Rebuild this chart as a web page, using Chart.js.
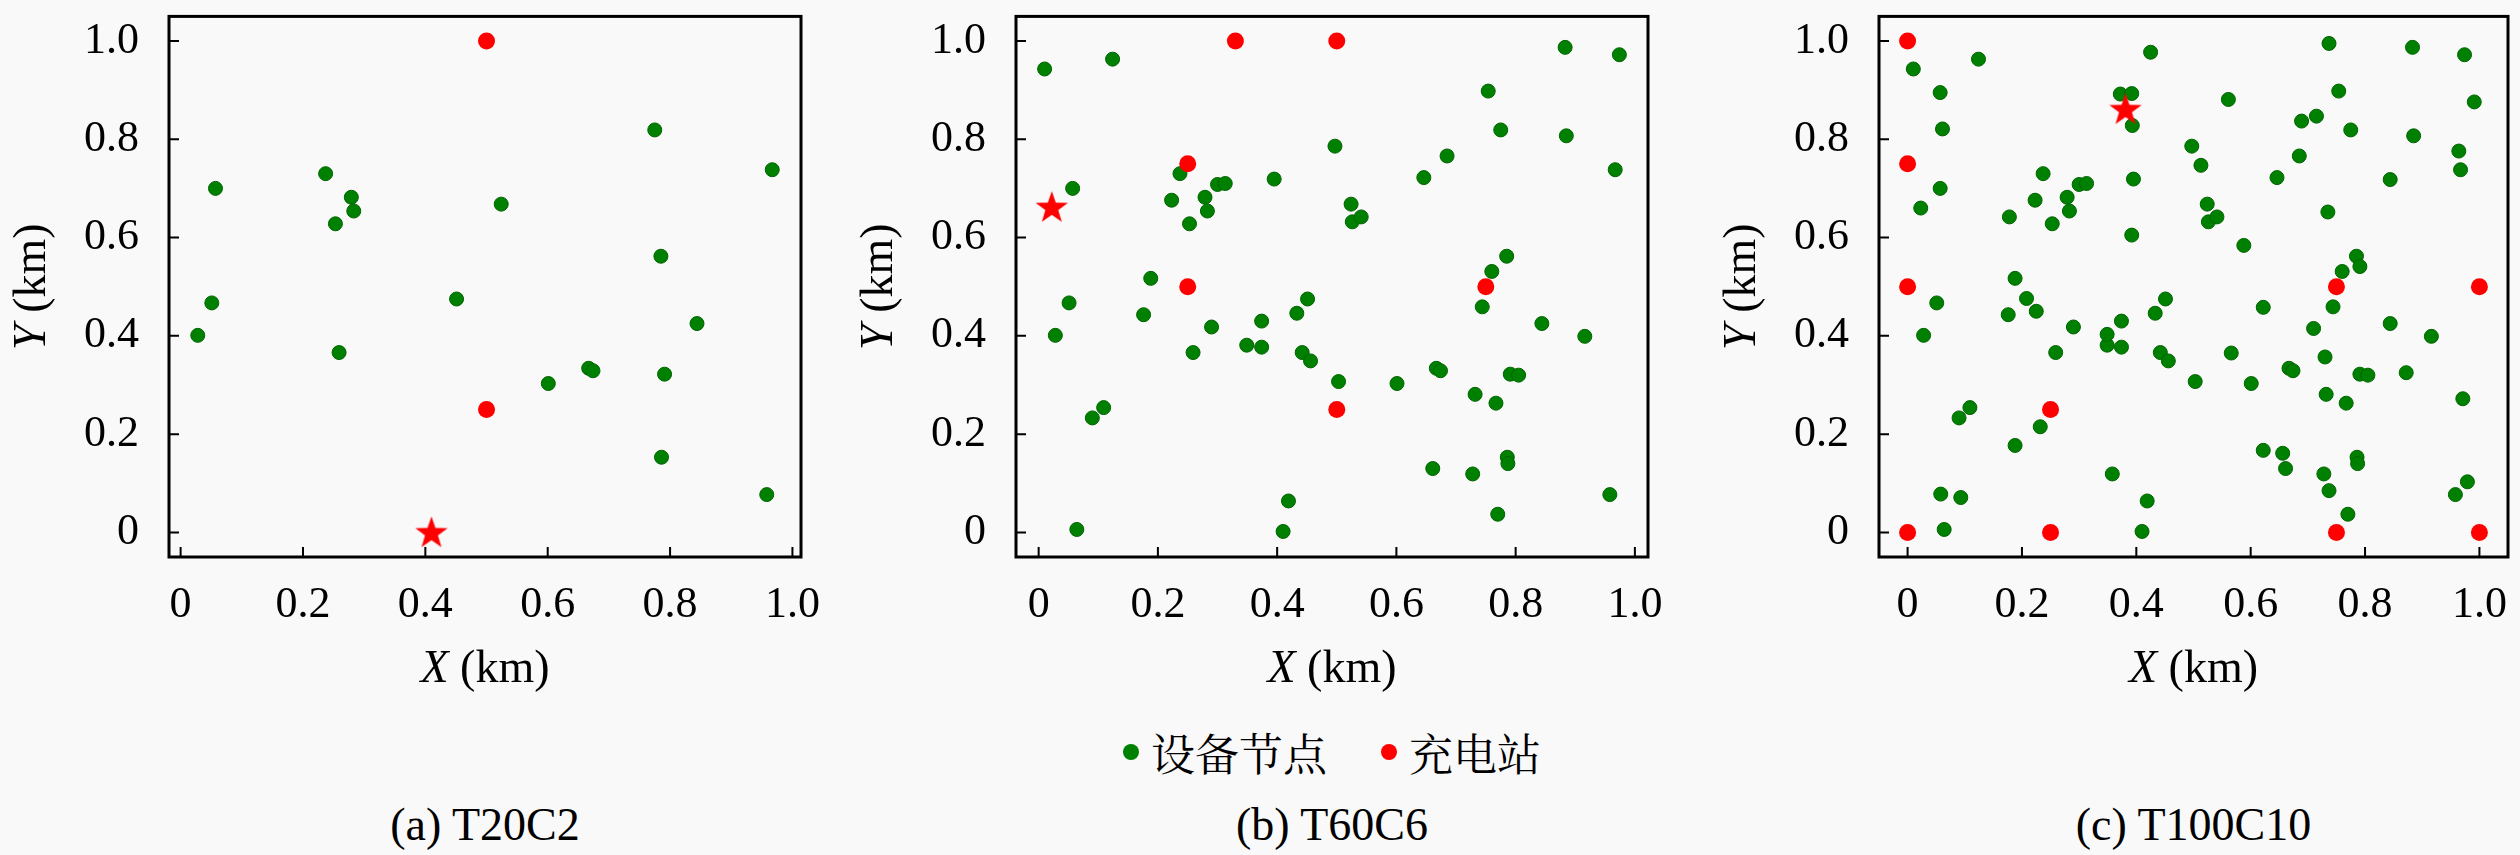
<!DOCTYPE html>
<html>
<head>
<meta charset="utf-8">
<script src="https://cdn.jsdelivr.net/npm/chart.js@4.4.1/dist/chart.umd.min.js"></script>
<style>
  body { margin: 0; background: #f9f9f9; width: 2520px; height: 855px; position: relative; overflow: hidden; }
  canvas { position: absolute; top: -40px; }
  .caption { position: absolute; top: 797px; text-align: center; font: 46px 'Liberation Serif', serif; line-height: 56px; color: #000; }
  #legend { position: absolute; top: 724px; left: 1016px; width: 632px; height: 56px; display: flex; justify-content: center; align-items: center;
            font: 44px 'Noto Serif CJK SC', 'Noto Sans CJK SC', sans-serif; color: #000; }
  .legend-item { display: flex; align-items: center; margin: 0 27px; }
  .legend-color { width: 16px; height: 16px; border-radius: 50%; margin-right: 12px; }
</style>
</head>
<body>
<canvas id="chartA" width="861" height="760" style="left:0px"></canvas>
<canvas id="chartB" width="861" height="760" style="left:847px"></canvas>
<canvas id="chartC" width="858" height="760" style="left:1710px"></canvas>
<div id="legend"></div>
<div id="captions"></div>

<script>
var tickValues = [0, 0.2, 0.4, 0.6, 0.8, 1.0];
var tickLabels = ['0', '0.2', '0.4', '0.6', '0.8', '1.0'];
var legendLabels = ['设备节点', '充电站'];
var captions = ['(a) T20C2', '(b) T60C6', '(c) T100C10'];
var nodeColor = 'rgb(0, 128, 0)';
var stationColor = 'rgb(255, 0, 0)';

// T20C2
var nodesA = [
  [0.057, 0.700], [0.051, 0.467], [0.028, 0.401], [0.237, 0.730], [0.253, 0.628],
  [0.279, 0.682], [0.283, 0.654], [0.259, 0.366], [0.451, 0.475], [0.524, 0.668],
  [0.601, 0.303], [0.667, 0.334], [0.674, 0.329], [0.775, 0.819], [0.785, 0.562],
  [0.791, 0.322], [0.786, 0.153], [0.844, 0.425], [0.967, 0.738], [0.958, 0.077]
];
var stationsA = [[0.5, 1.0], [0.5, 0.25]];
var startA = [[0.41, 0.0]];
var xLimitsA = [-0.019, 1.014];

// T60C6
var nodesB = [
  [0.057, 0.700], [0.051, 0.467], [0.028, 0.401], [0.237, 0.730], [0.253, 0.628],
  [0.279, 0.682], [0.283, 0.654], [0.259, 0.366], [0.451, 0.475], [0.524, 0.668],
  [0.601, 0.303], [0.667, 0.334], [0.674, 0.329], [0.775, 0.819], [0.785, 0.562],
  [0.791, 0.322], [0.786, 0.153], [0.844, 0.425], [0.967, 0.738], [0.958, 0.077],
  [0.010, 0.943], [0.124, 0.963], [0.223, 0.676], [0.300, 0.708], [0.313, 0.710],
  [0.395, 0.719], [0.497, 0.786], [0.526, 0.632], [0.541, 0.642], [0.188, 0.517],
  [0.176, 0.443], [0.290, 0.418], [0.349, 0.381], [0.374, 0.377], [0.374, 0.430],
  [0.433, 0.446], [0.442, 0.366], [0.456, 0.349], [0.503, 0.307], [0.109, 0.254],
  [0.090, 0.233], [0.064, 0.006], [0.419, 0.064], [0.410, 0.002], [0.883, 0.987],
  [0.974, 0.972], [0.754, 0.898], [0.885, 0.807], [0.685, 0.766], [0.646, 0.722],
  [0.760, 0.531], [0.744, 0.459], [0.916, 0.399], [0.805, 0.320], [0.732, 0.281],
  [0.767, 0.263], [0.787, 0.140], [0.661, 0.130], [0.728, 0.119], [0.770, 0.037]
];
var stationsB = [[0.33, 1.0], [0.5, 1.0], [0.25, 0.75], [0.25, 0.5], [0.5, 0.25], [0.75, 0.5]];
var startB = [[0.022, 0.662]];
var xLimitsB = [-0.038, 1.022];

// T100C10
var nodesC = [
  [0.057, 0.700], [0.051, 0.467], [0.028, 0.401], [0.237, 0.730], [0.253, 0.628],
  [0.279, 0.682], [0.283, 0.654], [0.259, 0.366], [0.451, 0.475], [0.524, 0.668],
  [0.601, 0.303], [0.667, 0.334], [0.674, 0.329], [0.775, 0.819], [0.785, 0.562],
  [0.791, 0.322], [0.786, 0.153], [0.844, 0.425], [0.967, 0.738], [0.958, 0.077],
  [0.010, 0.943], [0.124, 0.963], [0.223, 0.676], [0.300, 0.708], [0.313, 0.710],
  [0.395, 0.719], [0.497, 0.786], [0.526, 0.632], [0.541, 0.642], [0.188, 0.517],
  [0.176, 0.443], [0.290, 0.418], [0.349, 0.381], [0.374, 0.377], [0.374, 0.430],
  [0.433, 0.446], [0.442, 0.366], [0.456, 0.349], [0.503, 0.307], [0.109, 0.254],
  [0.090, 0.233], [0.064, 0.006], [0.419, 0.064], [0.410, 0.002], [0.883, 0.987],
  [0.974, 0.972], [0.754, 0.898], [0.885, 0.807], [0.685, 0.766], [0.646, 0.722],
  [0.760, 0.531], [0.744, 0.459], [0.916, 0.399], [0.805, 0.320], [0.732, 0.281],
  [0.767, 0.263], [0.787, 0.140], [0.661, 0.130], [0.728, 0.119], [0.770, 0.037],
  [0.425, 0.977], [0.057, 0.895], [0.061, 0.821], [0.372, 0.892], [0.392, 0.893],
  [0.393, 0.828], [0.023, 0.660], [0.178, 0.642], [0.392, 0.605], [0.208, 0.476],
  [0.737, 0.995], [0.561, 0.881], [0.689, 0.837], [0.715, 0.847], [0.991, 0.876],
  [0.513, 0.747], [0.844, 0.718], [0.964, 0.776], [0.735, 0.652], [0.588, 0.584],
  [0.791, 0.541], [0.622, 0.458], [0.225, 0.450], [0.349, 0.403], [0.232, 0.215],
  [0.188, 0.177], [0.358, 0.119], [0.058, 0.078], [0.093, 0.071], [0.710, 0.415],
  [0.566, 0.365], [0.730, 0.357], [0.872, 0.325], [0.971, 0.272], [0.622, 0.167],
  [0.656, 0.161], [0.737, 0.085], [0.979, 0.103]
];
var stationsC = [[0, 1.0], [0, 0.75], [0, 0.5], [0.25, 0.25], [0, 0], [0.25, 0], [0.75, 0.5], [1.0, 0.5], [0.75, 0], [1.0, 0]];
var startC = [[0.381, 0.861]];
var xLimitsC = [-0.05, 1.05];

var yLimits = [-0.05, 1.05];


// red star marker
function makeStar() {
    var c = document.createElement('canvas');
    c.width = 36;
    c.height = 36;
    var g = c.getContext('2d');
    g.fillStyle = stationColor;
    g.beginPath();
    for (var i = 0; i < 10; i++) {
        var r = i % 2 === 0 ? 17 : 6.8;
        var a = -Math.PI / 2 + i * Math.PI / 5;
        g.lineTo(18 + r * Math.cos(a), 19 + r * Math.sin(a));
    }
    g.closePath();
    g.fill();
    return c;
}
var starImage = makeStar();

function toPoints(list) {
    return list.map(p => ({ x: p[0], y: p[1] }));
}

function setTicks(scale) {
    scale.ticks = tickValues.map(v => ({ value: v }));
}

// box, inward ticks and the axis titles with an italic variable
var framePlugin = {
    id: 'frame',
    afterDraw: function (chart) {
        var ctx = chart.ctx;
        var area = chart.chartArea;
        var x = chart.scales.x;
        var y = chart.scales.y;
        ctx.save();
        ctx.strokeStyle = '#000';
        ctx.lineWidth = 2;
        ctx.beginPath();
        tickValues.forEach(v => {
            var px = x.getPixelForValue(v);
            var py = y.getPixelForValue(v);
            ctx.moveTo(px, area.bottom);
            ctx.lineTo(px, area.bottom - 10);
            ctx.moveTo(area.left, py);
            ctx.lineTo(area.left + 10, py);
        });
        ctx.stroke();
        ctx.lineWidth = 3;
        ctx.strokeRect(area.left, area.top, area.right - area.left, area.bottom - area.top);

        ctx.fillStyle = '#000';
        ctx.textBaseline = 'middle';
        drawTitle(ctx, 'X', (area.left + area.right) / 2, area.bottom + 113, 0);
        drawTitle(ctx, 'Y', area.left - 136, (area.top + area.bottom) / 2, -Math.PI / 2);
        ctx.restore();
    }
};

function drawTitle(ctx, letter, cx, cy, angle) {
    var italic = 'italic 46px "Liberation Serif", serif';
    var roman = '46px "Liberation Serif", serif';
    ctx.save();
    ctx.translate(cx, cy);
    ctx.rotate(angle);
    ctx.font = italic;
    var w1 = ctx.measureText(letter).width;
    ctx.font = roman;
    var w2 = ctx.measureText(' (km)').width;
    var start = -(w1 + w2) / 2;
    ctx.textAlign = 'left';
    ctx.font = italic;
    ctx.fillText(letter, start, 0);
    ctx.font = roman;
    ctx.fillText(' (km)', start + w1, 0);
    ctx.restore();
}

var tickFont = { family: '"Liberation Serif", serif', size: 44 };

function makeChart(canvasId, nodes, stations, start, xLimits) {
    var ctx = document.getElementById(canvasId).getContext('2d');
    return new Chart(ctx, {
        type: 'scatter',
        data: {
            datasets: [{
                label: legendLabels[0],
                data: toPoints(nodes),
                backgroundColor: nodeColor,
                borderColor: 'rgb(0, 100, 0)',
                borderWidth: 1,
                pointRadius: 7,
                order: 2
            }, {
                label: legendLabels[1],
                data: toPoints(stations),
                backgroundColor: stationColor,
                borderWidth: 0,
                pointRadius: 8.5,
                order: 1
            }, {
                label: 'start',
                data: toPoints(start),
                pointStyle: starImage,
                order: 0
            }]
        },
        options: {
            responsive: false,
            animation: false,
            devicePixelRatio: 1,
            layout: { padding: { left: 0, top: 44, right: 60, bottom: 0 } },
            plugins: {
                legend: { display: false },
                tooltip: { enabled: false }
            },
            scales: {
                x: {
                    type: 'linear',
                    min: xLimits[0],
                    max: xLimits[1],
                    afterBuildTicks: setTicks,
                    afterFit: function (scale) { scale.height = 163; },
                    grid: { display: false, drawTicks: false },
                    border: { display: false },
                    ticks: {
                        autoSkip: false,
                        maxRotation: 0,
                        padding: 22,
                        color: '#000',
                        font: tickFont,
                        callback: (v, i) => tickLabels[i]
                    }
                },
                y: {
                    type: 'linear',
                    min: yLimits[0],
                    max: yLimits[1],
                    afterBuildTicks: setTicks,
                    afterFit: function (scale) { scale.width = 169; },
                    grid: { display: false, drawTicks: false },
                    border: { display: false },
                    ticks: {
                        autoSkip: false,
                        padding: 30,
                        color: '#000',
                        font: tickFont,
                        callback: (v, i) => tickLabels[i]
                    }
                }
            }
        },
        plugins: [framePlugin]
    });
}

var chartA = makeChart('chartA', nodesA, stationsA, startA, xLimitsA);
var chartB = makeChart('chartB', nodesB, stationsB, startB, xLimitsB);
var chartC = makeChart('chartC', nodesC, stationsC, startC, xLimitsC);


function updateLegend() {
    var legend = document.getElementById('legend');
    var colors = [nodeColor, stationColor];
    legend.innerHTML = '';
    legendLabels.forEach((label, index) => {
        var legendItem = document.createElement('div');
        legendItem.classList.add('legend-item');

        var legendColor = document.createElement('div');
        legendColor.classList.add('legend-color');
        legendColor.style.backgroundColor = colors[index];

        var legendText = document.createElement('div');
        legendText.innerText = label;

        legendItem.appendChild(legendColor);
        legendItem.appendChild(legendText);
        legend.appendChild(legendItem);
    });
}

function updateCaptions() {
    var holder = document.getElementById('captions');
    [chartA, chartB, chartC].forEach((chart, index) => {
        var area = chart.chartArea;
        var left = chart.canvas.offsetLeft + area.left;
        var cap = document.createElement('div');
        cap.classList.add('caption');
        cap.style.left = left + 'px';
        cap.style.width = (area.right - area.left) + 'px';
        cap.innerText = captions[index];
        holder.appendChild(cap);
    });
}

updateLegend();
updateCaptions();
</script>
</body>
</html>
